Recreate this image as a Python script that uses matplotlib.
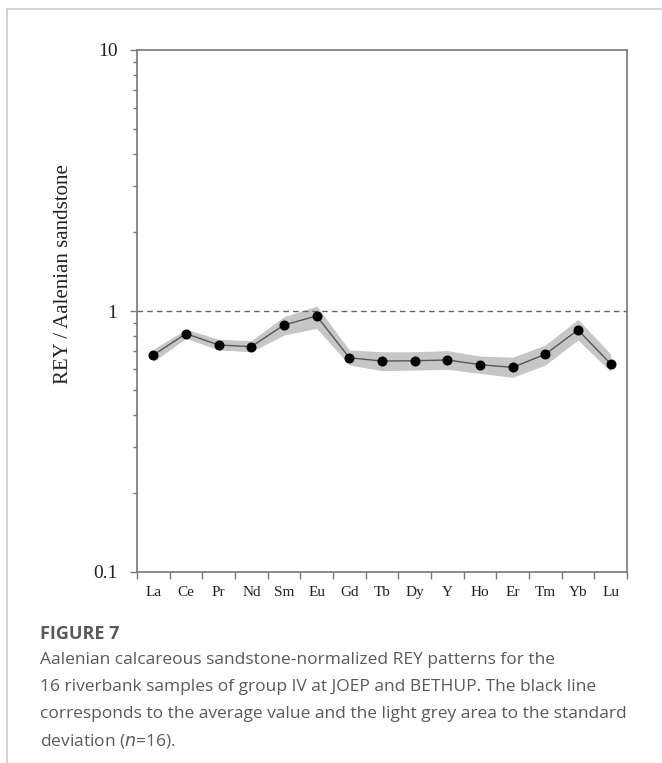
import numpy as np
import matplotlib
matplotlib.use("Agg")
import matplotlib.pyplot as plt
from matplotlib.lines import Line2D
from matplotlib.ticker import LogLocator, NullFormatter, FixedLocator

# REY normalized to Aalenian sandstone, group IV riverbank samples
elements = ["La", "Ce", "Pr", "Nd", "Sm", "Eu", "Gd", "Tb", "Dy", "Y", "Ho", "Er", "Tm", "Yb", "Lu"]
mean_vals = [0.678, 0.819, 0.741, 0.730, 0.884, 0.957, 0.662, 0.643, 0.645, 0.649,
             0.623, 0.608, 0.683, 0.846, 0.627]
upper_vals = [0.713, 0.851, 0.779, 0.770, 0.951, 1.045, 0.709, 0.698, 0.698, 0.705,
              0.672, 0.665, 0.741, 0.929, 0.684]
lower_vals = [0.640, 0.786, 0.709, 0.698, 0.809, 0.858, 0.621, 0.591, 0.594, 0.598,
              0.577, 0.557, 0.621, 0.774, 0.586]

W, H = 662, 763
fig = plt.figure(figsize=(W / 100, H / 100), dpi=100)

# page border lines (top and left)
fig.add_artist(Line2D([7 / W, 1], [1 - 9 / H, 1 - 9 / H], color="#cccccc", lw=1.2))
fig.add_artist(Line2D([7 / W, 7 / W], [0, 1 - 9 / H], color="#cccccc", lw=1.2))

ax = fig.add_axes([137 / W, 1 - 572 / H, (627 - 137) / W, (572 - 50) / H])

x = np.arange(len(elements)) + 0.5
ax.fill_between(x, lower_vals, upper_vals, color="#c6c6c6", lw=0, zorder=1)
ax.plot(x, mean_vals, color="#555555", lw=1.0, zorder=2)
ax.plot(x, mean_vals, "o", color="black", ms=6.2, zorder=3)
ax.axhline(1, color="#666666", lw=1.0, ls=(0, (4, 3)), zorder=1.5)

ax.set_yscale("log")
ax.set_ylim(0.1, 10)
ax.set_xlim(0, len(elements))

ax.yaxis.set_major_locator(FixedLocator([0.1, 1, 10]))
ax.set_yticklabels(["0.1", "1", "10"])
ax.yaxis.set_minor_locator(LogLocator(base=10, subs=np.arange(2, 10)))
ax.yaxis.set_minor_formatter(NullFormatter())

ax.set_xticks(np.arange(len(elements) + 1))
ax.set_xticklabels([])
ax.set_xticks(x, minor=True)
ax.set_xticklabels(elements, minor=True)

ax.tick_params(axis="y", which="major", direction="out", length=5, width=1,
               color="#777777", labelsize=14, pad=9, labelcolor="#222222")
ax.tick_params(axis="y", which="minor", direction="out", length=3, width=1, color="#777777")
ax.tick_params(axis="x", which="major", direction="out", length=5, width=1, color="#777777")
ax.tick_params(axis="x", which="minor", length=0, labelsize=11, pad=10, labelcolor="#222222")
for lab in ax.get_yticklabels() + ax.get_xticklabels(minor=True):
    lab.set_family("Liberation Serif")

for sp in ax.spines.values():
    sp.set_color("#777777")
    sp.set_linewidth(1.2)

fig.text(63 / W, 1 - 274 / H, "REY / Aalenian sandstone", rotation=90,
         ha="center", va="center", fontsize=15, family="Liberation Serif", color="#222222")

# caption
cap_color = "#5a5a5a"
fig.text(40 / W, 1 - 634 / H, "FIGURE 7", fontsize=13, fontweight="bold",
         family="Open Sans", color=cap_color, va="center")
caption = [
    "Aalenian calcareous sandstone-normalized REY patterns for the",
    "16 riverbank samples of group IV at JOEP and BETHUP. The black line",
    "corresponds to the average value and the light grey area to the standard",
]
for i, line in enumerate(caption):
    fig.text(40 / W, 1 - (660 + 27 * i) / H, line, fontsize=12.5,
             family="Open Sans", color=cap_color, va="center")
fig.text(40 / W, 1 - 741 / H, "deviation ($\\it{n}$=16).", fontsize=12.5,
         family="Open Sans", color=cap_color, va="center")

fig.savefig("out.png", dpi=100)
